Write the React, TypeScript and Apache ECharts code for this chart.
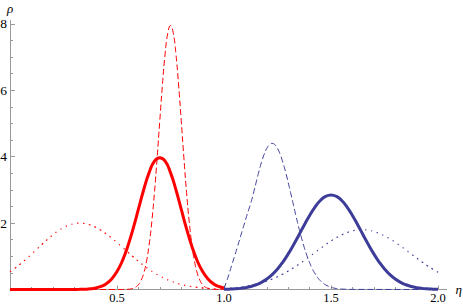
import React, { useEffect, useRef } from "react";
import * as echarts from "echarts";

// ---- data ----
const redX = [0, 0.025, 0.05, 0.075, 0.1, 0.125, 0.15, 0.175, 0.2, 0.225, 0.25, 0.275, 0.3, 0.325, 0.35, 0.375, 0.4, 0.425, 0.45, 0.475, 0.5, 0.525, 0.55, 0.575, 0.6, 0.625, 0.65, 0.675, 0.7, 0.725, 0.75, 0.775, 0.8, 0.825, 0.85, 0.875, 0.9, 0.925, 0.95, 0.975, 1.0];
const redSolid = [0, 0, 0, 0, 0, 0, 0, 0, 0, 0, 0, 0, 0.001, 0.004, 0.009, 0.02, 0.044, 0.091, 0.175, 0.318, 0.54, 0.863, 1.296, 1.827, 2.42, 3.012, 3.521, 3.867, 3.97, 3.867, 3.521, 3.012, 2.42, 1.827, 1.296, 0.863, 0.54, 0.318, 0.175, 0.091, 0.044];
const redDotted = [0.534, 0.649, 0.777, 0.916, 1.062, 1.213, 1.364, 1.51, 1.645, 1.765, 1.864, 1.938, 1.984, 2.0, 1.986, 1.944, 1.876, 1.786, 1.675, 1.55, 1.413, 1.271, 1.127, 0.985, 0.849, 0.721, 0.604, 0.499, 0.406, 0.326, 0.258, 0.201, 0.155, 0.118, 0.088, 0.065, 0.047, 0.034, 0.024, 0.017, 0.011];

const redDashedX = [0, 0.5, 0.55, 0.5625, 0.575, 0.5875, 0.6, 0.6125, 0.625, 0.6375, 0.65, 0.6625, 0.675, 0.6875, 0.7, 0.7125, 0.725, 0.7375, 0.75, 0.7625, 0.775, 0.7875, 0.8, 0.8125, 0.825, 0.8375, 0.85, 0.8625, 0.875, 0.8875, 0.9, 0.9125, 0.925, 0.9375, 0.95, 1.0];
const redDashed = [0, 0, 0.006, 0.015, 0.034, 0.072, 0.145, 0.275, 0.493, 0.836, 1.341, 2.035, 2.922, 3.966, 5.094, 6.19, 7.113, 7.732, 7.95, 7.732, 7.113, 6.19, 5.094, 3.966, 2.922, 2.035, 1.341, 0.836, 0.493, 0.275, 0.145, 0.072, 0.034, 0.015, 0.006, 0];

const blueX = [1.0, 1.025, 1.05, 1.075, 1.1, 1.125, 1.15, 1.175, 1.2, 1.225, 1.25, 1.275, 1.3, 1.325, 1.35, 1.375, 1.4, 1.425, 1.45, 1.475, 1.5, 1.525, 1.55, 1.575, 1.6, 1.625, 1.65, 1.675, 1.7, 1.725, 1.75, 1.775, 1.8, 1.825, 1.85, 1.875, 1.9, 1.925, 1.95, 1.975, 2.0];
const blueSolid = [0.006, 0.011, 0.02, 0.034, 0.057, 0.092, 0.143, 0.216, 0.316, 0.449, 0.618, 0.827, 1.072, 1.348, 1.644, 1.945, 2.232, 2.484, 2.681, 2.807, 2.85, 2.807, 2.681, 2.484, 2.232, 1.945, 1.644, 1.348, 1.072, 0.827, 0.618, 0.449, 0.316, 0.216, 0.143, 0.092, 0.057, 0.034, 0.02, 0.011, 0.006];
const blueDotted = [0.03, 0.04, 0.055, 0.073, 0.096, 0.125, 0.16, 0.203, 0.254, 0.315, 0.386, 0.466, 0.556, 0.655, 0.762, 0.876, 0.995, 1.116, 1.236, 1.353, 1.462, 1.561, 1.646, 1.715, 1.764, 1.793, 1.8, 1.784, 1.747, 1.69, 1.614, 1.523, 1.42, 1.307, 1.189, 1.067, 0.947, 0.83, 0.718, 0.614, 0.518];

const blueDashedX = [1.0, 1.0125, 1.025, 1.0375, 1.05, 1.0625, 1.075, 1.0875, 1.1, 1.1125, 1.125, 1.1375, 1.15, 1.1625, 1.175, 1.1875, 1.2, 1.2125, 1.225, 1.2375, 1.25, 1.2625, 1.275, 1.2875, 1.3, 1.3125, 1.325, 1.3375, 1.35, 1.3625, 1.375, 1.3875, 1.4, 1.4125, 1.425, 1.4375, 1.45, 1.4625, 1.475, 1.4875, 1.5, 1.5125, 1.525, 1.5375, 1.55, 1.6, 2.0];
const blueDashed = [0.03, 0.25, 0.5, 0.76, 1.02, 1.28, 1.55, 1.82, 2.09, 2.35, 2.6, 2.9, 3.222, 3.544, 3.831, 4.07, 4.25, 4.362, 4.4, 4.362, 4.25, 4.07, 3.831, 3.544, 3.222, 2.879, 2.529, 2.182, 1.851, 1.544, 1.265, 1.019, 0.807, 0.627, 0.48, 0.36, 0.266, 0.193, 0.138, 0.097, 0.067, 0.045, 0.03, 0.02, 0.013, 0.003, 0];

const xTickLabels = [0.5, 1.0, 1.5, 2.0];
const xMinorTicks = [0.1, 0.2, 0.3, 0.4, 0.6, 0.7, 0.8, 0.9, 1.1, 1.2, 1.3, 1.4, 1.6, 1.7, 1.8, 1.9];
const yTickLabels = [2, 4, 6, 8];
const yMinorTicks = [0.5, 1, 1.5, 2.5, 3, 3.5, 4.5, 5, 5.5, 6.5, 7, 7.5];

const RED = "#ff0000";
const BLUE = "#3d3d99";
const AXIS = "#9a9a9a";
const FONT = "Liberation Serif";

function pairs(xs: number[], ys: number[]) {
  return xs.map((x, i) => [x, ys[i]]);
}

export default function App() {
  const ref = useRef<HTMLDivElement>(null);
  useEffect(() => {
    if (!ref.current) return;
    const chart = echarts.init(ref.current, undefined, { renderer: "svg" });
    const lineBase = { type: "line", showSymbol: false, symbol: "none", smooth: true, clip: false, xAxisIndex: 0, yAxisIndex: 0 };
    chart.setOption({
      animation: false,
      backgroundColor: "#ffffff",
      textStyle: { fontFamily: FONT },
      grid: { left: 10, right: 16.4, top: 20.6, bottom: 15.5, containLabel: false, outerBoundsMode: "none" },
      xAxis: [
        {
          type: "value", min: 0, max: 2.04, position: "bottom",
          axisLine: { onZero: false, lineStyle: { color: AXIS, width: 1 } },
          axisTick: { show: true, inside: true, length: 4, customValues: xTickLabels, lineStyle: { color: AXIS } },
          axisLabel: { customValues: xTickLabels, formatter: (v: number) => v.toFixed(1), color: "#000", fontFamily: FONT, fontSize: 12.5, margin: 2 },
          splitLine: { show: false },
          name: "η", nameLocation: "end", nameGap: 9,
          nameTextStyle: { fontFamily: FONT, fontStyle: "italic", fontSize: 13, color: "#000", verticalAlign: "middle" },
        },
        {
          type: "value", min: 0, max: 2.04, position: "bottom",
          axisLine: { show: false, onZero: false },
          axisTick: { show: true, inside: true, length: 2.5, customValues: xMinorTicks, lineStyle: { color: AXIS } },
          axisLabel: { show: false },
          splitLine: { show: false },
        },
      ],
      yAxis: [
        {
          type: "value", min: 0, max: 8.1, position: "left",
          axisLine: { show: true, onZero: false, lineStyle: { color: AXIS, width: 1 } },
          axisTick: { show: true, inside: true, length: 5, customValues: yTickLabels, lineStyle: { color: AXIS } },
          axisLabel: { customValues: yTickLabels, color: "#000", fontFamily: FONT, fontSize: 13.5, margin: 3 },
          splitLine: { show: false },
          name: "ρ", nameLocation: "end", nameGap: 6,
          nameTextStyle: { fontFamily: FONT, fontStyle: "italic", fontSize: 13, color: "#000", align: "center" },
        },
        {
          type: "value", min: 0, max: 8.1, position: "left",
          axisLine: { show: false, onZero: false },
          axisTick: { show: true, inside: true, length: 3, customValues: yMinorTicks, lineStyle: { color: AXIS } },
          axisLabel: { show: false },
          splitLine: { show: false },
        },
      ],
      series: [
        { ...lineBase, name: "red dotted", data: pairs(redX, redDotted), lineStyle: { color: RED, width: 1.2, type: [1.5, 4.5] }, z: 2 },
        { ...lineBase, name: "blue dotted", data: pairs(blueX, blueDotted), lineStyle: { color: BLUE, width: 1.2, type: [1.5, 4.5] }, z: 2 },
        { ...lineBase, name: "red solid", data: pairs(redX, redSolid), lineStyle: { color: RED, width: 3 }, z: 3 },
        { ...lineBase, name: "blue solid", data: pairs(blueX, blueSolid), lineStyle: { color: BLUE, width: 3 }, z: 3 },
        { ...lineBase, name: "red dashed", data: pairs(redDashedX, redDashed), lineStyle: { color: RED, width: 1, type: [6, 3] }, z: 4 },
        { ...lineBase, name: "blue dashed", data: pairs(blueDashedX, blueDashed), lineStyle: { color: BLUE, width: 1, type: [6, 3] }, z: 4 },
      ],
    });
    return () => chart.dispose();
  }, []);
  return <div ref={ref} style={{ position: "absolute", left: 0, top: 0, width: 463, height: 305 }} />;
}
